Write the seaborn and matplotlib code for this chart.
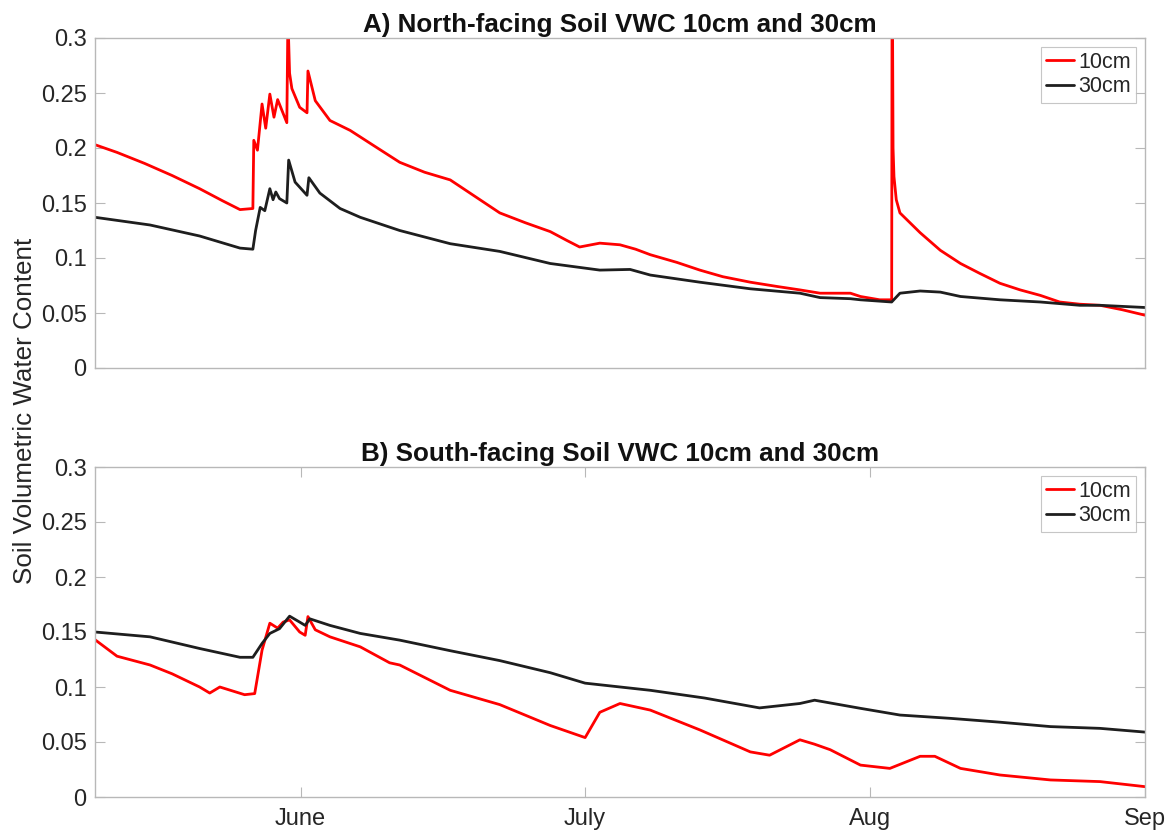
import matplotlib
matplotlib.use("Agg")
import matplotlib.pyplot as plt
import seaborn as sns
import pandas as pd

# ---- North-facing slope (day of year, volumetric water content) ----
north_10_doy = [129.6, 132.0, 135.0, 138.0, 141.0, 143.5, 145.4, 146.8, 146.9, 147.3,
                147.8, 148.2, 148.65, 149.1, 149.5, 150.5, 150.62, 150.8, 151.05, 151.9,
                152.7, 152.8, 153.6, 155.2, 157.4, 160.0, 162.8, 165.5, 168.3, 171.0,
                173.7, 176.5, 179.2, 181.0, 182.4, 184.6, 186.8, 188.5, 190.1, 193.0,
                195.5, 198.0, 201.0, 204.0, 206.4, 208.6, 211.9, 213.0, 215.1, 216.4,
                216.45, 216.55, 216.65, 216.9, 217.3, 219.5, 221.7, 223.9, 226.0, 228.2,
                230.4, 232.6, 234.7, 236.9, 239.1, 241.5, 244.0]
north_10_vwc = [0.203, 0.196, 0.186, 0.175, 0.163, 0.152, 0.144, 0.145, 0.207, 0.198,
                0.240, 0.218, 0.249, 0.228, 0.244, 0.223, 0.320, 0.268, 0.254, 0.237,
                0.232, 0.270, 0.243, 0.225, 0.216, 0.202, 0.187, 0.178, 0.171, 0.156,
                0.141, 0.132, 0.124, 0.116, 0.110, 0.1135, 0.112, 0.108, 0.103, 0.096,
                0.089, 0.083, 0.078, 0.074, 0.071, 0.068, 0.068, 0.065, 0.062, 0.062,
                0.400, 0.200, 0.174, 0.153, 0.141, 0.123, 0.107, 0.095, 0.086, 0.077,
                0.071, 0.066, 0.060, 0.058, 0.057, 0.053, 0.048]

north_30_doy = [129.6, 135.6, 141.0, 145.4, 146.8, 147.1, 147.6, 148.1, 148.65, 149.0,
                149.3, 149.7, 150.5, 150.7, 151.4, 152.7, 152.9, 154.1, 156.3, 158.5,
                162.8, 168.3, 173.7, 179.2, 184.6, 187.9, 190.1, 195.5, 201.0, 206.4,
                208.6, 211.9, 213.0, 216.4, 217.3, 219.5, 221.7, 223.9, 228.2, 232.6,
                236.9, 239.1, 244.0]
north_30_vwc = [0.137, 0.130, 0.120, 0.109, 0.108, 0.125, 0.146, 0.143, 0.163, 0.153,
                0.160, 0.154, 0.150, 0.189, 0.169, 0.157, 0.173, 0.159, 0.145, 0.137,
                0.125, 0.113, 0.106, 0.095, 0.089, 0.0896, 0.0845, 0.078, 0.072, 0.068,
                0.064, 0.063, 0.062, 0.060, 0.068, 0.070, 0.069, 0.065, 0.062, 0.060,
                0.057, 0.057, 0.055]

# ---- South-facing slope ----
south_10_doy = [129.6, 132.0, 135.6, 138.0, 141.0, 142.1, 143.2, 145.9, 147.0, 147.8,
                148.65, 149.5, 150.1, 150.8, 151.9, 152.5, 152.8, 153.6, 155.2, 158.5,
                161.7, 162.8, 168.3, 173.7, 179.2, 183.0, 184.6, 186.8, 190.1, 195.5,
                201.0, 203.1, 206.4, 208.0, 209.7, 213.0, 216.2, 219.5, 221.1, 223.9,
                228.2, 233.7, 239.1, 244.0]
south_10_vwc = [0.143, 0.128, 0.120, 0.112, 0.100, 0.0945, 0.100, 0.093, 0.094, 0.1335,
                0.158, 0.1535, 0.159, 0.161, 0.150, 0.147, 0.164, 0.152, 0.1456, 0.1365,
                0.122, 0.120, 0.097, 0.084, 0.065, 0.054, 0.077, 0.085, 0.079, 0.061,
                0.041, 0.038, 0.052, 0.048, 0.043, 0.029, 0.026, 0.037, 0.037, 0.026,
                0.020, 0.0155, 0.014, 0.0094]

south_30_doy = [129.6, 135.6, 141.0, 145.4, 146.8, 147.8, 148.65, 149.7, 150.8, 151.9,
                152.5, 153.0, 155.2, 158.5, 162.8, 168.3, 173.7, 179.2, 183.0, 190.1,
                196.0, 202.0, 206.4, 208.0, 213.0, 217.3, 222.8, 228.2, 233.7, 239.1,
                244.0]
south_30_vwc = [0.150, 0.1456, 0.135, 0.127, 0.127, 0.1396, 0.1487, 0.153, 0.1644, 0.159,
                0.156, 0.162, 0.156, 0.1487, 0.1426, 0.133, 0.124, 0.113, 0.1035, 0.097,
                0.090, 0.081, 0.085, 0.088, 0.0806, 0.0745, 0.0715, 0.068, 0.064, 0.0624,
                0.059]

depth_labels = ["10cm", "30cm"]
month_labels = ["June", "July", "Aug", "Sep"]
month_ticks = [152, 183, 214, 244]
y_ticks = [0, 0.05, 0.1, 0.15, 0.2, 0.25, 0.3]
y_tick_labels = ["0", "0.05", "0.1", "0.15", "0.2", "0.25", "0.3"]

titles = ["A) North-facing Soil VWC 10cm and 30cm",
          "B) South-facing Soil VWC 10cm and 30cm"]
y_label = "Soil Volumetric Water Content"


def frame(doy10, v10, doy30, v30):
    a = pd.DataFrame({"doy": doy10, "vwc": v10, "depth": depth_labels[0]})
    b = pd.DataFrame({"doy": doy30, "vwc": v30, "depth": depth_labels[1]})
    return pd.concat([a, b], ignore_index=True)


north = frame(north_10_doy, north_10_vwc, north_30_doy, north_30_vwc)
south = frame(south_10_doy, south_10_vwc, south_30_doy, south_30_vwc)

sns.set_style("white")
plt.rcParams["font.family"] = ["Liberation Sans", "DejaVu Sans"]

palette = {"10cm": "#ff0000", "30cm": "#1e1e1e"}
spine_gray = "#b8b8b8"
text_dark = "#262626"

fig = plt.figure(figsize=(11.7, 8.33), dpi=100)
ax_top = fig.add_axes([95 / 1170, 1 - 368 / 833, 1050 / 1170, 330 / 833])
ax_bot = fig.add_axes([95 / 1170, 1 - 797 / 833, 1050 / 1170, 330 / 833])

for ax, data, title, show_x in [(ax_top, north, titles[0], False),
                                (ax_bot, south, titles[1], True)]:
    sns.lineplot(data=data, x="doy", y="vwc", hue="depth", palette=palette,
                 estimator=None, sort=False, linewidth=2.0, ax=ax)
    ax.set_xlim(129.6, 244.0)
    ax.set_ylim(0, 0.3)
    ax.set_yticks(y_ticks)
    ax.set_yticklabels(y_tick_labels)
    if show_x:
        ax.set_xticks(month_ticks)
        ax.set_xticklabels(month_labels)
    else:
        ax.set_xticks([])
    ax.set_xlabel("")
    ax.set_ylabel("")
    ax.tick_params(direction="in", length=7, width=0.8, color=spine_gray,
                   labelsize=17, labelcolor=text_dark, pad=6,
                   left=True, right=True, top=show_x, bottom=show_x)
    ax.tick_params(axis="x", pad=8)
    for s in ax.spines.values():
        s.set_color(spine_gray)
        s.set_linewidth(1.0)
        s.set_visible(True)
    ax.set_title(title, fontsize=18.7, fontweight="bold", color="#111111", pad=4)
    leg = ax.legend(loc="upper right", fontsize=15.5, frameon=True, fancybox=False,
                    handlelength=1.3, handletextpad=0.2, borderpad=0.25,
                    labelspacing=0.15, borderaxespad=0.4)
    leg.get_frame().set_edgecolor(spine_gray)
    leg.get_frame().set_linewidth(0.8)
    for t in leg.get_texts():
        t.set_color(text_dark)

fig.text(25 / 1170, 1 - 411 / 833, y_label, rotation=90, ha="center", va="center",
         fontsize=18.7, color=text_dark)

fig.savefig("out.png", dpi=100, facecolor="white")
